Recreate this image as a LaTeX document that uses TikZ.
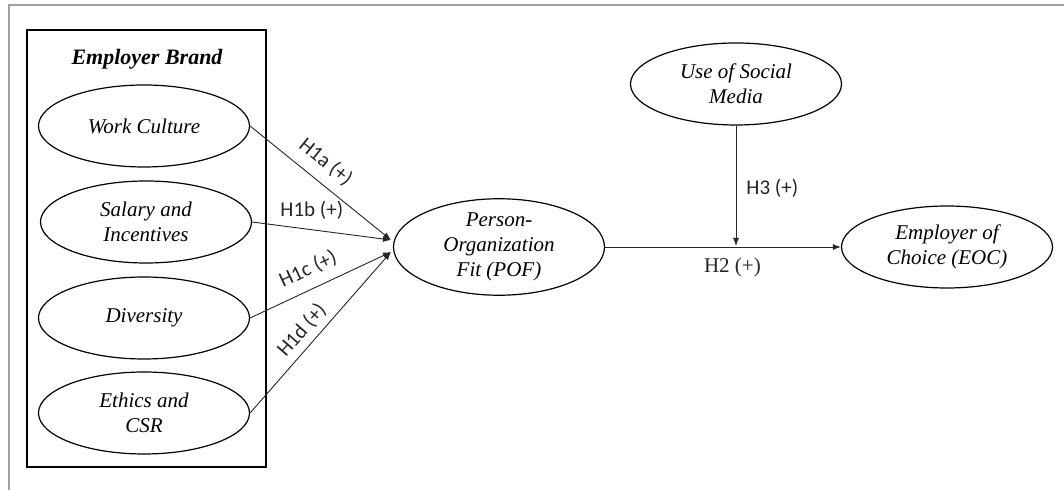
\documentclass[tikz,border=0pt]{standalone}
\usepackage{fontspec}
\setmainfont{Liberation Serif}
\newfontfamily\hypfont{Carlito}
\usepackage{tikz}
\usetikzlibrary{shapes.geometric}
\usetikzlibrary{arrows.meta}

\begin{document}
\begin{tikzpicture}[x=0.5pt,y=-0.5pt,
  construct/.style={draw,ellipse,line width=0.6pt,minimum width=105.5pt,minimum height=41pt,inner sep=0pt,align=center,font=\fontsize{10.5}{12.5}\selectfont\itshape},
  path/.style={-{Latex[length=4pt,width=3pt]},line width=0.45pt,black!85},
  hyp/.style={font=\fontsize{10.5}{12}\selectfont\hypfont,inner sep=2pt},
  hyptimes/.style={font=\fontsize{10.5}{12}\selectfont,inner sep=2pt}]
  \useasboundingbox (0,0) rectangle (1064,490);
  \draw[gray!75,line width=1pt] (9,490) -- (9,5) -- (1064,5);
  \draw[line width=0.6pt] (27,30) rectangle (266,467);
  \node[font=\fontsize{11}{13}\selectfont\bfseries\itshape] (brand) at (147,59) {Employer Brand};
   \node[construct] (work) at (144,126) {Work Culture};
   \node[construct] (salary) at (146,222) {Salary and\\Incentives};
   \node[construct] (divers) at (144,318) {Diversity};
   \node[construct] (ethics) at (144,413) {Ethics and\\CSR};
  \node[construct,font=\fontsize{10.5}{12.5}\selectfont\itshape] (pof) at (499,247) {Person-\\Organization\\Fit (POF)};
  \node[construct] (social) at (736,84) {Use of Social\\Media};
  \node[construct] (eoc) at (947,247) {Employer of\\Choice (EOC)};
  \coordinate (inA) at (391,240);
  \coordinate (inB) at (391,252);
  \coordinate (modr) at (736,246);
\draw[path] (work.east) -- node[hyp,sloped,above=3pt,pos=0.45] {H1a (+)} (inA);
\draw[path] (salary.east) -- node[hyp,above=3pt,pos=0.43] {H1b (+)} (inA);
\draw[path] (divers.east) -- node[hyp,sloped,above=3pt,pos=0.47] {H1c (+)} (inB);
\draw[path] (ethics.east) -- node[hyp,sloped,above=1pt,pos=0.45] {H1d (+)} (inB);
\draw[path] (pof.east) -- node[hyptimes,below=3pt,pos=0.54] {H2 (+)} (eoc.west);
\draw[path] (social.south) -- node[hyp,right=3pt,pos=0.52] {H3 (+)} (modr);
\end{tikzpicture}
\end{document}
